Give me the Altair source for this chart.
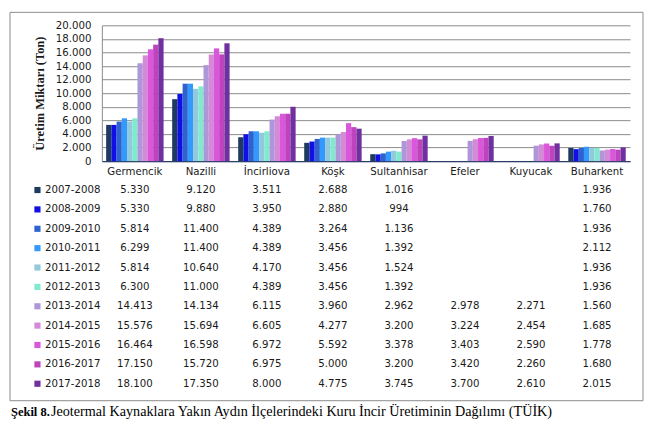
import altair as alt
import pandas as pd

categories = ["Germencik", "Nazilli", "İncirliova", "Köşk", "Sultanhisar", "Efeler", "Kuyucak", "Buharkent"]
seasons = ["2007-2008", "2008-2009", "2009-2010", "2010-2011", "2011-2012", "2012-2013",
           "2013-2014", "2014-2015", "2015-2016", "2016-2017", "2017-2018"]
colors = ["#1f3a5f", "#1010e6", "#2e62ce", "#3399ff", "#93c9dc", "#80eacf",
          "#ae97d9", "#d58ad8", "#da56da", "#be44be", "#7030a0"]

v_2007 = [5330, 9120, 3511, 2688, 1016, None, None, 1936]
v_2008 = [5330, 9880, 3950, 2880, 994, None, None, 1760]
v_2009 = [5814, 11400, 4389, 3264, 1136, None, None, 1936]
v_2010 = [6299, 11400, 4389, 3456, 1392, None, None, 2112]
v_2011 = [5814, 10640, 4170, 3456, 1524, None, None, 1936]
v_2012 = [6300, 11000, 4389, 3456, 1392, None, None, 1936]
v_2013 = [14413, 14134, 6115, 3960, 2962, 2978, 2271, 1560]
v_2014 = [15576, 15694, 6605, 4277, 3200, 3224, 2454, 1685]
v_2015 = [16464, 16598, 6972, 5592, 3378, 3403, 2590, 1778]
v_2016 = [17150, 15720, 6975, 5000, 3200, 3420, 2260, 1680]
v_2017 = [18100, 17350, 8000, 4775, 3745, 3700, 2610, 2015]
series_values = [v_2007, v_2008, v_2009, v_2010, v_2011, v_2012,
                 v_2013, v_2014, v_2015, v_2016, v_2017]

y_title = "Üretim Miktarı (Ton)"
caption_bold = "Şekil 8."
caption_rest = "Jeotermal Kaynaklara Yakın Aydın İlçelerindeki Kuru İncir Üretiminin Dağılımı (TÜİK)"

rows = []
for s, vals in zip(seasons, series_values):
    for c, v in zip(categories, vals):
        rows.append({"season": s, "category": c, "value": v})
df = pd.DataFrame(rows)
df_seasons = pd.DataFrame({"season": seasons})

W, H = 529, 136
FONT = "DejaVu Sans"
FS = 10.2
TXT = "#1a1a1a"

x_enc = alt.X("category:N", sort=categories, title=None,
              scale=alt.Scale(domain=categories, paddingInner=0.13, paddingOuter=0.065),
              axis=alt.Axis(ticks=False, labelPadding=5, labelFont=FONT, labelFontSize=FS,
                            labelColor=TXT, domainColor="#2b3f6b", domainWidth=1.2,
                            labelAngle=0, grid=False))
color_enc = alt.Color("season:N", scale=alt.Scale(domain=seasons, range=colors), legend=None)

bars = alt.Chart(df).transform_filter("datum.value != null").mark_bar().encode(
    x=x_enc,
    xOffset=alt.XOffset("season:N", sort=seasons,
                        scale=alt.Scale(domain=seasons, paddingInner=0, paddingOuter=0)),
    y=alt.Y("value:Q", title=y_title,
            scale=alt.Scale(domain=[0, 20000], nice=False),
            axis=alt.Axis(values=list(range(0, 20001, 2000)),
                          labelExpr="replace(format(datum.value, ',d'), ',', '.')",
                          ticks=False, tickSize=0, labelPadding=11,
                          labelFont=FONT, labelFontSize=FS, labelColor=TXT,
                          domainColor="#8c8c8c", gridColor="#8c8c8c", gridWidth=1,
                          titleFont="Liberation Serif", titleFontSize=12.5,
                          titleFontWeight="bold", titleColor=TXT, titlePadding=9)),
    color=color_enc,
)

row_scale = alt.Scale(domain=seasons, range=[155.3, 368.7], paddingInner=0, paddingOuter=0)
y_row = alt.Y("season:N", sort=seasons, scale=row_scale, axis=None)

table_text = alt.Chart(df).transform_filter("datum.value != null").transform_calculate(
    label="replace(format(datum.value, ',d'), ',', '.')"
).mark_text(font=FONT, fontSize=FS, color=TXT, baseline="middle").encode(
    x=x_enc, y=y_row, text="label:N"
)

swatches = alt.Chart(df_seasons).mark_square(size=38, opacity=1).encode(
    x=alt.value(-64.5), y=y_row, color=color_enc
)
season_labels = alt.Chart(df_seasons).mark_text(
    font=FONT, fontSize=FS, color=TXT, align="left", baseline="middle"
).encode(x=alt.value(-57), y=y_row, text="season:N")

one = alt.Data(values=[{"k": 1}])
frame = alt.Chart(one).mark_rect(fill="transparent", stroke="#8c8c8c", strokeWidth=1).encode(
    x=alt.value(-92), x2=alt.value(542), y=alt.value(-13), y2=alt.value(376)
)
cap1 = alt.Chart(one).mark_text(font="Liberation Serif", fontSize=12.5, fontWeight="bold",
                                color="#000", align="left", baseline="middle").encode(
    x=alt.value(-91), y=alt.value(387), text=alt.value(caption_bold))
cap2 = alt.Chart(one).mark_text(font="Liberation Serif", fontSize=14.2,
                                color="#000", align="left", baseline="middle").encode(
    x=alt.value(-51), y=alt.value(387), text=alt.value(caption_rest))

chart = alt.layer(bars, table_text, swatches, season_labels, frame, cap1, cap2).resolve_scale(
    y="independent"
).properties(
    width=W, height=H,
    padding={"left": 1, "top": 3, "right": 5, "bottom": 5},
    background="white",
).configure_view(strokeWidth=0)

chart.save("out.html", embed_options={"renderer": "svg", "actions": False})
